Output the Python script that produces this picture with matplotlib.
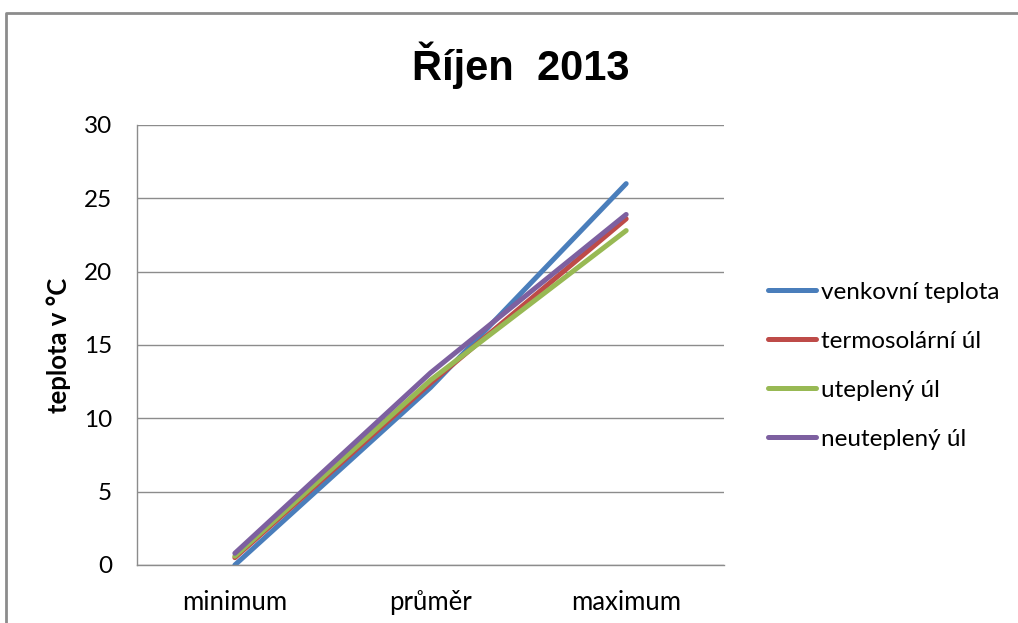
import matplotlib.pyplot as plt
from matplotlib.lines import Line2D

categories = ['minimum', 'průměr', 'maximum']
series_names = ['venkovní teplota', 'termosolární úl', 'uteplený úl', 'neuteplený úl']
venkovni = [0.0, 12.1, 26.0]
termosolarni = [0.5, 12.4, 23.6]
utepleny = [0.6, 12.6, 22.8]
neutepleny = [0.8, 13.1, 23.9]
colors = ['#4A7EBB', '#BE4B48', '#98B954', '#7D60A0']
yticks = [0, 5, 10, 15, 20, 25, 30]

fig = plt.figure(figsize=(10.18, 6.23), dpi=100)
ax = fig.add_axes([0.1346, 0.0931, 0.5766, 0.7063])

# chart frame: only the top and left edges show in the crop
fig.lines.append(Line2D([0.006, 0.006, 1.05], [-0.05, 0.979, 0.979], transform=fig.transFigure,
                        color='#8c8c8c', linewidth=2))

x = list(range(len(categories)))
for name, vals, c in zip(series_names, [venkovni, termosolarni, utepleny, neutepleny], colors):
    ax.plot(x, vals, color=c, linewidth=3.6, solid_capstyle='round', label=name)

ax.set_xlim(-0.5, 2.5)
ax.set_ylim(0, 30)
ax.set_yticks(yticks)
ax.yaxis.grid(True, color='#8c8c8c', linewidth=1)
ax.set_axisbelow(True)
ax.set_xticks(x)
ax.set_xticklabels(categories)
ax.tick_params(length=0)
ax.tick_params(axis='y', pad=18, labelsize=17.5)
ax.tick_params(axis='x', pad=18, labelsize=18.5)
for lab in ax.get_xticklabels() + ax.get_yticklabels():
    lab.set_fontfamily('Lato')
for s in ['top', 'right']:
    ax.spines[s].set_visible(False)
for s in ['left', 'bottom']:
    ax.spines[s].set_color('#8c8c8c')
    ax.spines[s].set_linewidth(1)

ax.set_ylabel('teplota v °C', fontsize=18.5, fontweight='bold', fontfamily='Lato', labelpad=9)
fig.text(0.512, 0.895, 'Říjen  2013', ha='center', va='center', fontsize=30,
         fontweight='bold', fontfamily='Liberation Sans')

fig.legend(loc='center left', bbox_to_anchor=(0.754, 0.413), frameon=False,
           prop={'family': 'Lato', 'size': 17.5}, handlelength=2.0, labelspacing=1.15,
           handletextpad=0.2, borderaxespad=0, borderpad=0)

fig.savefig('out.png', dpi=100)
